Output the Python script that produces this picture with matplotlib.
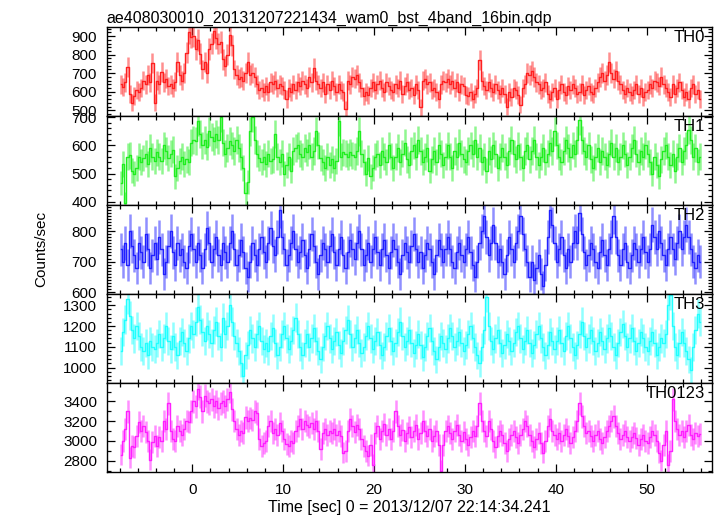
import numpy as np
import matplotlib
matplotlib.use('Agg')
import matplotlib.pyplot as plt
from matplotlib.ticker import MultipleLocator

title = "ae408030010_20131207221434_wam0_bst_4band_16bin.qdp"
xlabel = "Time [sec] 0 = 2013/12/07 22:14:34.241"
ylabel = "Counts/sec"

# 0.25 s bins starting at t = -8 s
bin_width = 0.25
t_start = -8.0

th0 = [
    640, 625, 650, 735, 590, 540, 575, 610,
    600, 620, 660, 640, 690, 650, 755, 540,
    660, 640, 705, 650, 670, 630, 640, 620,
    655, 760, 690, 660, 700, 810, 920, 895,
    900, 830, 880, 805, 720, 760, 700, 830,
    860, 925, 890, 860, 870, 775, 740, 800,
    905, 850, 720, 690, 670, 680, 660, 700,
    760, 690, 700, 680, 640, 610, 620, 600,
    630, 600, 650, 640, 660, 620, 640, 630,
    610, 560, 620, 600, 640, 610, 650, 630,
    660, 640, 620, 680, 650, 730, 660, 640,
    620, 650, 585, 640, 610, 660, 630, 600,
    640, 610, 600, 505, 660, 640, 680, 670,
    690, 650, 620, 575, 600, 580, 620, 650,
    610, 640, 660, 620, 600, 650, 630, 610,
    600, 640, 620, 660, 590, 630, 650, 610,
    620, 580, 640, 610, 515, 660, 670, 640,
    650, 610, 620, 600, 560, 640, 660, 650,
    670, 640, 660, 620, 650, 600, 640, 630,
    580, 575, 600, 560, 590, 620, 770, 660,
    630, 610, 650, 620, 600, 640, 610, 590,
    620, 590, 520, 600, 570, 620, 610, 580,
    530, 620, 640, 700, 690, 710, 680, 650,
    640, 610, 620, 650, 590, 560, 600, 620,
    560, 610, 640, 600, 580, 630, 610, 640,
    620, 590, 600, 640, 580, 610, 630, 600,
    590, 620, 650, 680, 700, 660, 690, 760,
    700, 670, 710, 660, 640, 610, 590, 620,
    600, 580, 610, 640, 590, 620, 570, 600,
    610, 640, 620, 660, 650, 630, 680, 640,
    620, 600, 570, 640, 590, 620, 650, 610,
    570, 600, 560, 620, 640, 590, 610, 560,
]

th1 = [
    465, 535, 395, 560, 565, 510, 500, 520,
    560, 540, 555, 570, 535, 590, 560, 545,
    575, 560, 545, 600, 580, 555, 570, 585,
    490, 520, 545, 560, 535, 550, 540, 610,
    620, 615, 685, 640, 600, 620, 595, 650,
    630, 615, 640, 620, 700, 610, 570, 590,
    615, 600, 580, 620, 590, 560, 520, 430,
    470, 650, 700, 620, 570, 555, 540, 560,
    535, 570, 545, 550, 640, 560, 540, 570,
    500, 530, 560, 510, 580, 590, 600, 570,
    560, 590, 575, 600, 560, 580, 650, 600,
    555, 540, 520, 560, 530, 550, 520, 545,
    685, 560, 575, 570, 560, 575, 565, 560,
    580, 650, 570, 540, 500, 555, 490, 520,
    560, 570, 530, 580, 560, 540, 600, 560,
    520, 560, 590, 540, 570, 610, 550, 530,
    580, 600, 560, 620, 580, 540, 560, 590,
    510, 550, 580, 540, 600, 570, 530, 560,
    600, 560, 520, 580, 560, 610, 570, 550,
    540, 580, 600, 570, 620, 560, 590, 540,
    560, 510, 580, 550, 600, 570, 520, 560,
    590, 560, 530, 580, 620, 570, 550, 600,
    560, 520, 580, 600, 550, 580, 620, 560,
    530, 560, 590, 540, 570, 610, 580, 650,
    600, 560, 540, 580, 620, 590, 560, 600,
    570, 620, 690, 620, 580, 560, 600, 550,
    520, 560, 590, 540, 580, 560, 530, 570,
    610, 560, 590, 540, 560, 600, 570, 530,
    560, 590, 620, 570, 540, 580, 560, 600,
    570, 540, 500, 560, 530, 490, 550, 580,
    600, 560, 530, 570, 510, 560, 590, 540,
    580, 600, 655, 620, 560, 590, 540, 560,
]

th2 = [
    740, 700, 760, 690, 800, 750, 720, 680,
    760, 730, 700, 790, 740, 680, 720, 760,
    710, 780, 740, 660, 700, 750, 800, 730,
    690, 760, 720, 740, 700, 680, 750, 790,
    740, 700, 760, 720, 680, 740, 810, 760,
    700, 740, 780, 720, 690, 760, 730, 700,
    760, 800, 740, 690, 720, 770, 730, 680,
    650, 700, 760, 720, 690, 740, 780, 730,
    700, 760, 810, 750, 720, 780, 870, 780,
    740, 690, 720, 760, 800, 740, 700, 730,
    770, 720, 680, 740, 790, 750, 700, 660,
    720, 760, 740, 700, 750, 790, 730, 690,
    740, 780, 720, 680, 730, 770, 740, 710,
    760, 800, 740, 690, 720, 760, 700, 740,
    780, 730, 690, 740, 770, 720, 680, 730,
    770, 740, 700, 660, 720, 760, 730, 700,
    750, 790, 740, 700, 730, 680, 720, 760,
    740, 700, 660, 720, 770, 740, 700, 740,
    780, 740, 700, 680, 730, 760, 720, 700,
    740, 780, 730, 690, 650, 700, 760, 800,
    850, 780, 720, 760, 820, 760, 700, 740,
    700, 660, 720, 780, 740, 700, 760, 800,
    850, 790, 740, 700, 650, 700, 640, 680,
    720, 660, 620, 690, 780, 870, 820, 760,
    700, 740, 780, 720, 680, 740, 700, 760,
    800, 760, 860, 790, 730, 690, 720, 760,
    740, 700, 680, 730, 770, 720, 690, 740,
    780, 850, 780, 720, 690, 740, 760, 700,
    680, 720, 760, 740, 700, 740, 780, 730,
    700, 740, 820, 780, 740, 800, 760, 720,
    690, 740, 780, 740, 710, 760, 800, 740,
    780, 820, 780, 740, 700, 680, 720, 700,
]

th3 = [
    1080, 1170, 1230, 1330, 1250, 1180, 1140, 1200,
    1150, 1100, 1080, 1120, 1060, 1130, 1100, 1090,
    1120, 1160, 1100, 1140, 1200, 1130, 1090, 1150,
    1100, 1060, 1130, 1170, 1120, 1080, 1140, 1200,
    1160, 1220, 1290, 1230, 1170, 1130, 1200, 1160,
    1120, 1180, 1220, 1150, 1100, 1240, 1160, 1200,
    1300, 1220, 1150, 1120, 1080, 1020, 960, 1060,
    1110, 1180, 1140, 1100, 1160, 1200, 1130, 1090,
    1120, 1080, 1150, 1190, 1120, 1060, 1100, 1160,
    1200, 1140, 1090, 1130, 1180, 1240, 1160, 1100,
    1060, 1120, 1160, 1100, 1140, 1190, 1130, 1080,
    1040, 1100, 1150, 1200, 1140, 1090, 1130, 1170,
    1110, 1070, 1130, 1180, 1230, 1160, 1100, 1140,
    1180, 1120, 1070, 1100, 1150, 1200, 1140, 1090,
    1130, 1170, 1110, 1060, 1100, 1150, 1190, 1130,
    1080, 1120, 1170, 1220, 1150, 1100, 1130, 1180,
    1120, 1070, 1110, 1160, 1110, 1050, 1100, 1150,
    1190, 1130, 1080, 1040, 1100, 1150, 1120, 1090,
    1140, 1190, 1150, 1100, 1130, 1170, 1120, 1080,
    1110, 1160, 1200, 1140, 1100, 1060, 1020, 1100,
    1180, 1340, 1200, 1130, 1090, 1140, 1180, 1120,
    1070, 1110, 1160, 1130, 1080, 1120, 1170, 1200,
    1140, 1090, 1130, 1180, 1120, 1070, 1110, 1160,
    1200, 1140, 1100, 1060, 1110, 1170, 1130, 1090,
    1130, 1180, 1120, 1080, 1150, 1200, 1140, 1100,
    1060, 1110, 1160, 1220, 1150, 1100, 1140, 1180,
    1130, 1080, 1120, 1170, 1130, 1090, 1140, 1190,
    1150, 1100, 1060, 1120, 1170, 1210, 1150, 1100,
    1140, 1190, 1130, 1080, 1120, 1170, 1140, 1100,
    1080, 1130, 1170, 1120, 1060, 1100, 1140, 1120,
    1160, 1300, 1350, 1200, 1100, 1060, 1120, 1170,
    1120, 1080, 1040, 990, 1100, 1180, 1260, 1220,
]

th0123 = [
    2860, 3000, 3120, 3300, 2830, 2950, 2940, 3050,
    3190, 3100, 3150, 3090, 3000, 2810, 2990, 3050,
    2950, 3040, 3000, 3200, 3120, 3380, 3100, 3020,
    3000, 3150, 3100, 3060, 3120, 3200, 3190, 3300,
    3400, 3350, 3530, 3450, 3300, 3460, 3400, 3380,
    3420, 3350, 3400, 3330, 3380, 3400, 3350, 3420,
    3500, 3320, 3200, 3120, 3060, 3100, 3080, 3240,
    3200, 3230, 3210, 3300, 3280, 3020, 2950, 2980,
    3000, 3150, 3200, 3080, 3120, 3060, 3180, 3100,
    3020, 2970, 2950, 3000, 2980, 3100, 3150, 3220,
    3120, 3200, 3160, 3140, 3180, 3120, 3200, 3100,
    2920, 3080, 3120, 3060, 3100, 3080, 3120, 3060,
    3100, 3050, 2880, 2900, 3100, 3220, 3150, 3090,
    3160, 3120, 3020, 2950, 2900, 2850, 2960, 2760,
    3080, 3150, 3020, 3100, 3170, 3060, 3120, 3020,
    3100, 3300, 3150, 3060, 3110, 3000, 3080, 3140,
    3040, 3100, 3160, 3020, 3080, 3200, 3100, 3050,
    3120, 3000, 3050, 3100, 2960, 2700, 2960, 3100,
    3150, 3080, 3020, 3100, 3160, 3060, 3000, 3090,
    3020, 2960, 3040, 3100, 3050, 3150, 3380, 3200,
    3100, 3050, 3200, 3120, 3000, 2940, 3050, 3100,
    3060, 2980, 2900, 3020, 3060, 3100, 3040, 2980,
    3060, 3120, 3200, 3150, 3060, 3000, 2940, 3020,
    3080, 2980, 2880, 3000, 3150, 3220, 3100, 3060,
    3020, 3080, 3000, 3060, 3120, 3050, 2980, 3040,
    3100, 3200, 3380, 3250, 3150, 3080, 3100, 3050,
    3000, 3060, 3100, 3020, 2980, 3040, 3100, 3150,
    3200, 3250, 3150, 3080, 3020, 3060, 3100, 3040,
    3000, 3040, 3080, 3030, 2960, 3020, 3060, 3000,
    2980, 3040, 3100, 3060, 3000, 2880, 2800, 2960,
    3100, 2760, 2900, 3420, 3200, 3120, 3060, 3100,
    3040, 3100, 3160, 3060, 3020, 3080, 3050, 3070,
]

bands = ["TH0", "TH1", "TH2", "TH3", "TH0123"]
series = [th0, th1, th2, th3, th0123]
colors = ["#ff2020", "#20ee20", "#2020ff", "#20ffff", "#ff20ff"]
ylims = [(470, 950), (389, 705), (595, 886), (927, 1356), (2690, 3590)]
ymajor = [100, 100, 100, 100, 200]
yminor = [20, 20, 10, 20, 100]

plt.rcParams['font.family'] = ['Liberation Sans', 'DejaVu Sans']
plt.rcParams['font.size'] = 11

fig = plt.figure(figsize=(7.17, 5.16), dpi=100)
left, right, top, bottom = 0.149, 0.993, 0.948, 0.086
h = (top - bottom) / len(bands)

for k, (name, vals, col) in enumerate(zip(bands, series, colors)):
    ax = fig.add_axes([left, top - (k + 1) * h, right - left, h])
    v = np.array(vals, dtype=float)
    t = t_start + bin_width * (np.arange(len(v)) + 0.5)
    err = np.sqrt(v * bin_width) / bin_width
    # pale error bars, then the rate as a step histogram on top
    ax.errorbar(t, v, yerr=err, fmt='none', ecolor=col, alpha=0.5, elinewidth=1.8, capsize=0)
    ax.step(t, v, where='mid', color=col, lw=1.0)
    ax.set_xlim(-9.4, 57.2)
    ax.set_ylim(*ylims[k])
    ax.xaxis.set_major_locator(MultipleLocator(10))
    ax.xaxis.set_minor_locator(MultipleLocator(2))
    ax.yaxis.set_major_locator(MultipleLocator(ymajor[k]))
    ax.yaxis.set_minor_locator(MultipleLocator(yminor[k]))
    ax.tick_params(which='both', direction='in', top=True, right=True, width=0.9)
    ax.tick_params(which='major', length=6)
    ax.tick_params(which='minor', length=3)
    ax.tick_params(axis='y', pad=7)
    ax.tick_params(axis='x', pad=8)
    for s in ax.spines.values():
        s.set_linewidth(1.0)
    if k < len(bands) - 1:
        ax.tick_params(labelbottom=False)
    ax.text(0.988, 0.96, name, transform=ax.transAxes, ha='right', va='top', fontsize=12)
    if k == 0:
        ax.set_title(title, loc='left', fontsize=11.5, pad=3)
    if k == len(bands) - 1:
        ax.set_xlabel(xlabel, fontsize=11.5, labelpad=2)

fig.text(0.058, (top + bottom) / 2, ylabel, rotation=90, ha='center', va='center', fontsize=11)

fig.savefig('out.png', dpi=100)
